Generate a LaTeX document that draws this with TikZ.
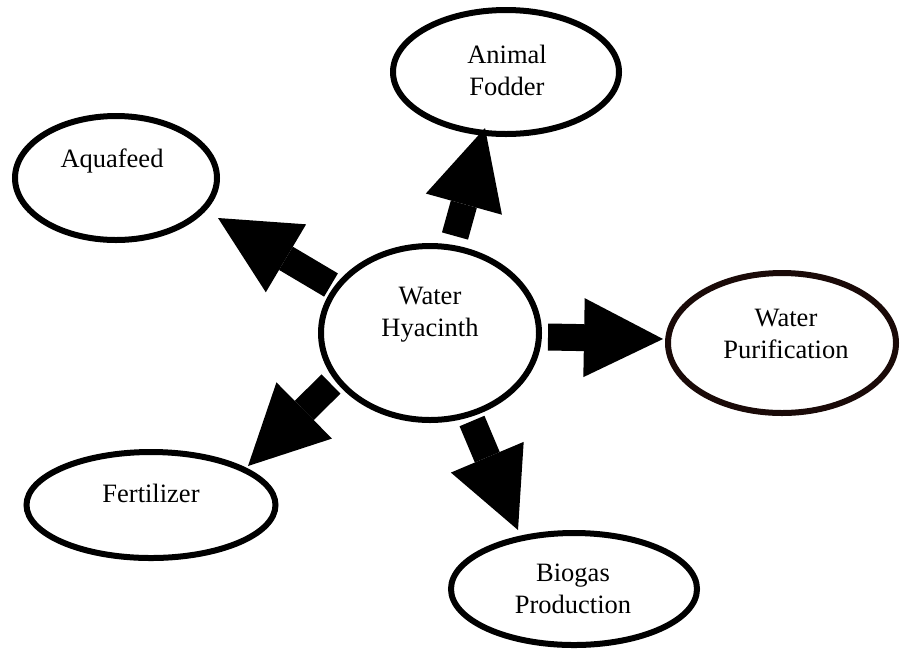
\documentclass[tikz,border=0pt]{standalone}
\usepackage{fontspec}
\setmainfont{Liberation Serif}
\usetikzlibrary{arrows.meta,shapes.geometric}
\definecolor{purline}{RGB}{26,10,8}
\begin{document}
\begin{tikzpicture}[x=1pt,y=-1pt,
  bub/.style={ellipse,draw=black,line width=6pt,fill=white,inner sep=0pt,outer sep=0pt},
  lbl/.style={font=\fontsize{26.5}{31.5}\selectfont,align=center,inner sep=0pt,anchor=base},
  blk/.style={line width=27pt,draw=black,-{Triangle[length=79pt,width=79pt,line width=0pt]}}]
\useasboundingbox (0,0) rectangle (901,649);
% ellipses
\node[bub,minimum width=218pt,minimum height=174pt] (hub) at (430,333) {};
\node[bub,minimum width=226pt,minimum height=124pt] (fod) at (506,72) {};
\node[bub,minimum width=202pt,minimum height=124pt] (aqua) at (116,178) {};
\node[bub,draw=purline,minimum width=228pt,minimum height=140pt] (pur) at (782,343) {};
\node[bub,minimum width=249pt,minimum height=106pt] (fert) at (151,505) {};
\node[bub,minimum width=246pt,minimum height=112pt] (bio) at (574,589) {};
% labels (base = baseline of the last line)
\node[lbl] (hubT) at (430,336) {Water\\Hyacinth};
\node[lbl] (fodT) at (507,95) {Animal\\Fodder};
\node[lbl] (aquaT) at (112,167) {Aquafeed};
\node[lbl] (purT) at (786,358) {Water\\Purification};
\node[lbl] (fertT) at (151,502) {Fertilizer};
\node[lbl] (bioT) at (573,613) {Biogas\\Production};
% arrow ends
\coordinate (fodS) at (455,236);  \coordinate (fodE) at (485,128);
\coordinate (aquaS) at (331,285); \coordinate (aquaE) at (218,218);
\coordinate (purS) at (548,337);  \coordinate (purE) at (663,339);
\coordinate (fertS) at (331,384); \coordinate (fertE) at (248,466);
\coordinate (bioS) at (472,421);  \coordinate (bioE) at (518,530);
% arrows
\draw[blk] (fodS) -- (fodE);
\draw[blk] (aquaS) -- (aquaE);
\draw[blk] (purS) -- (purE);
\draw[blk] (fertS) -- (fertE);
\draw[blk] (bioS) -- (bioE);
\end{tikzpicture}
\end{document}
